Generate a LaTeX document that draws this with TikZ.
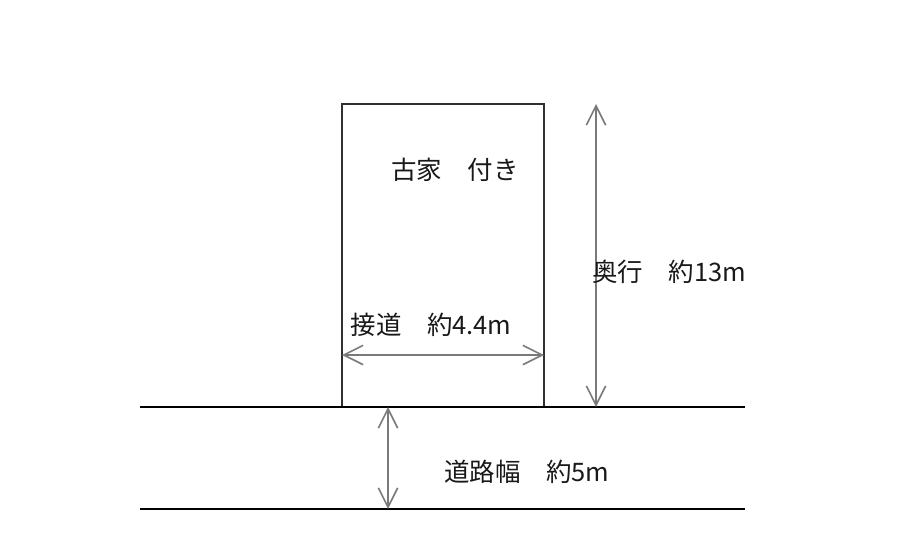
\documentclass[tikz,border=0pt]{standalone}
\usepackage{fontspec}
\usepackage{tikz}
\usetikzlibrary{arrows.meta, positioning}
\newfontfamily\jpfont{Noto Sans CJK JP}
\definecolor{lotline}{HTML}{303030}
\definecolor{dimgrey}{HTML}{7A7A7A}
\tikzset{
  dimarrow/.style={{Straight Barb[length=11pt,width=11pt]}-{Straight Barb[length=11pt,width=11pt]}, dimgrey, line width=0.9pt},
  lotedge/.style={lotline, line width=0.8pt},
  roadedge/.style={black, line width=0.8pt},
  dimlabel/.style={font=\fontsize{14.5}{14.5}\selectfont\jpfont, text=black!90, inner sep=0pt}
}

\begin{document}
\begin{tikzpicture}[x=0.02cm, y=-0.02cm]
  \useasboundingbox (0,0) rectangle (904,551);

  % Lot corners
  \coordinate (lotNW) at (342,104);
  \coordinate (lotNE) at (544,104);
  \coordinate (lotSW) at (342,407);
  \coordinate (lotSE) at (544,407);
  % Road edges
  \coordinate (roadTopW) at (140,407);
  \coordinate (roadTopE) at (745,407);
  \coordinate (roadBotW) at (140,509);
  \coordinate (roadBotE) at (745,509);
  % Dimension end points
  \coordinate (depthTop) at (596,104);
  \coordinate (depthBot) at (596,407);
  \coordinate (frontW) at (342,355);
  \coordinate (frontE) at (544,355);
  \coordinate (roadDimTop) at (388,407);
  \coordinate (roadDimBot) at (388,509);

  % Lot outline and road
  \draw[lotedge] (lotSW) -- (lotNW) -- (lotNE) -- (lotSE);
  \draw[roadedge] (roadTopW) -- (roadTopE);
  \draw[roadedge] (roadBotW) -- (roadBotE);

  % Dimension arrows
  \draw[dimarrow] (depthTop) -- (depthBot);
  \draw[dimarrow] (frontW) -- (frontE);
  \draw[dimarrow] (roadDimTop) -- (roadDimBot);

  % Labels
  \node[dimlabel] (house) at (455,170) {古家　付き};
  \node[dimlabel] (depth) at (669,272) {奥行　約13m};
  \node[dimlabel] (front) at (431,325) {接道　約4.4m};
  \node[dimlabel] (roadw) at (527,472) {道路幅　約5m};
\end{tikzpicture}
\end{document}
